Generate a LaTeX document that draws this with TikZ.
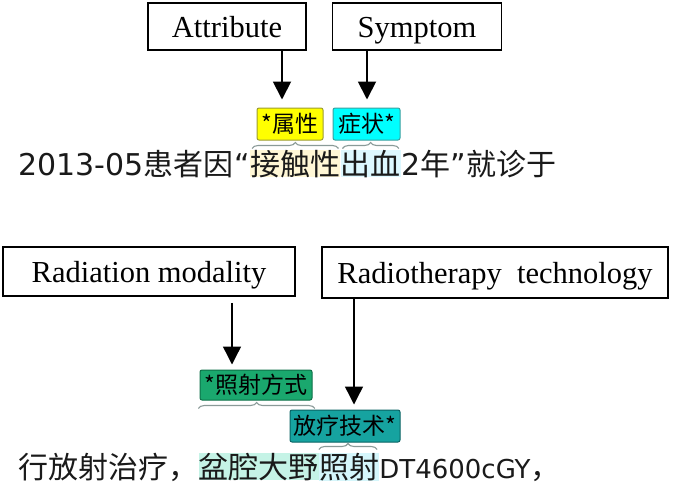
\documentclass[tikz,border=0pt]{standalone}
\usepackage{fontspec}
\setmainfont{Liberation Serif}
\newfontfamily\cjk{Noto Sans CJK SC}
\newfontfamily\lat{DejaVu Sans}
\usetikzlibrary{decorations.pathreplacing,arrows.meta}
\definecolor{tagyel}{HTML}{FFFF00}
\definecolor{tagyelb}{HTML}{9C9C30}
\definecolor{tagcyan}{HTML}{00FFFF}
\definecolor{tagcyanb}{HTML}{3AA0A0}
\definecolor{taggrn}{HTML}{1AA86E}
\definecolor{taggrnb}{HTML}{0E7048}
\definecolor{tagteal}{HTML}{16A3A0}
\definecolor{tagtealb}{HTML}{0A6464}
\definecolor{hlyel}{HTML}{FFF7D6}
\definecolor{hlcyan}{HTML}{DDF8FF}
\definecolor{hlmint}{HTML}{C5F3E6}
\definecolor{hlcyan2}{HTML}{D5F6FB}
\definecolor{brcol}{HTML}{8A9A98}
\definecolor{txt}{HTML}{1A1A1A}
\begin{document}
\begin{tikzpicture}[x=1pt,y=-1pt,
  tbox/.style={draw, line width=1.9pt, inner sep=0pt, text height=22pt, text depth=0pt,
    font=\fontsize{30.5}{32}\selectfont},
  arr/.style={line width=1.4pt, -{Triangle[length=18pt,width=18pt]}},
  tag/.style={draw, rounded corners=2pt, line width=1pt, inner sep=0pt, text=black,
    font=\cjk\fontsize{23}{25}\selectfont},
  seg/.style={inner sep=0pt, anchor=base west, text=txt},
  cjkf/.style={font=\cjk\fontsize{30}{32}\selectfont},
  latf/.style={font=\lat\fontsize{30}{32}\selectfont},
  latsm/.style={font=\lat\fontsize{26}{28}\selectfont},
  brc/.style={draw=brcol, line width=1.1pt, decorate, decoration={brace, amplitude=6pt}}
]
\useasboundingbox (0,0) rectangle (685,490);
\fill[white] (0,0) rectangle (685,490);

% top boxes
\node[tbox, minimum width=158pt, minimum height=47pt] (attr) at (227,26.5) {Attribute};
\node[tbox, minimum width=169pt, minimum height=47pt] (symp) at (417,26.5) {Symptom};

% top tags
\node[tag, fill=tagyel, draw=tagyelb, minimum width=66pt, minimum height=32pt] (tyel) at (290,124) {*属性};
\node[tag, fill=tagcyan, draw=tagcyanb, minimum width=67pt, minimum height=32pt] (tcyan) at (366.5,124) {症状*};

\coordinate (xa) at (282,0);
\coordinate (xs) at (367,0);
\draw[arr, line width=1.9pt, shorten >=8pt] (attr.south -| xa) -- (tyel.north -| xa);
\draw[arr, line width=1.9pt, shorten >=8pt] (symp.south -| xs) -- (tcyan.north -| xs);

% line 1
\node[seg, latf] (s1) at (18,175) {2013-05};
\node[seg, cjkf] (s2) at (s1.base east) {患者因};
\node[seg, latf] (s3) at (s2.base east) {“};
\node[seg, cjkf, fill=hlyel] (s4) at (s3.base east) {接触性};
\node[seg, cjkf, fill=hlcyan] (s5) at (s4.base east) {出血};
\node[seg, latf] (s6) at (s5.base east) {2};
\node[seg, cjkf] (s7) at (s6.base east) {年};
\node[seg, latf] (s8) at (s7.base east) {”};
\node[seg, cjkf] (s9) at (s8.base east) {就诊于};

\draw[brc] ([xshift=2pt,yshift=-8pt]tyel.south -| s4.west) -- ([xshift=-2pt,yshift=-8pt]tyel.south -| s4.east);
\draw[brc] ([xshift=2pt,yshift=-8pt]tcyan.south -| s5.west) -- ([xshift=-2pt,yshift=-8pt]tcyan.south -| s5.east);

% bottom boxes
\node[tbox, minimum width=292pt, minimum height=49pt] (rmod) at (149,271.5) {Radiation modality};
\node[tbox, minimum width=346pt, minimum height=51pt] (rtec) at (495,272.5) {Radiotherapy\ \ technology};

% bottom tags
\node[tag, fill=taggrn, draw=taggrnb, minimum width=112pt, minimum height=30pt] (tgrn) at (256,385) {*照射方式};
\node[tag, fill=tagteal, draw=tagtealb, minimum width=110pt, minimum height=32pt] (tteal) at (345,426) {放疗技术*};

\coordinate (xm) at (232,0);
\coordinate (xt) at (354,0);
\draw[arr, shorten <=6pt, shorten >=5pt] (rmod.south -| xm) -- (tgrn.north -| xm);
\draw[arr, shorten >=5pt] (rtec.south -| xt) -- (tteal.north -| xt);

% line 2
\node[seg, cjkf] (t1) at (18,478) {行放射治疗，};
\node[seg, cjkf, fill=hlmint] (t2) at (t1.base east) {盆腔大野};
\node[seg, cjkf, fill=hlcyan2] (t3) at (t2.base east) {照射};
\node[seg, latsm] (t4) at (t3.base east) {DT4600cGY};
\node[seg, cjkf] (t5) at (t4.base east) {，};

\draw[brc] ([xshift=0pt,yshift=-8pt]tgrn.south -| t2.west) -- ([xshift=-4pt,yshift=-8pt]tgrn.south -| t2.east);
\draw[brc] ([xshift=0pt,yshift=-7pt]tteal.south -| t3.west) -- ([xshift=-2pt,yshift=-7pt]tteal.south -| t3.east);
\end{tikzpicture}
\end{document}
